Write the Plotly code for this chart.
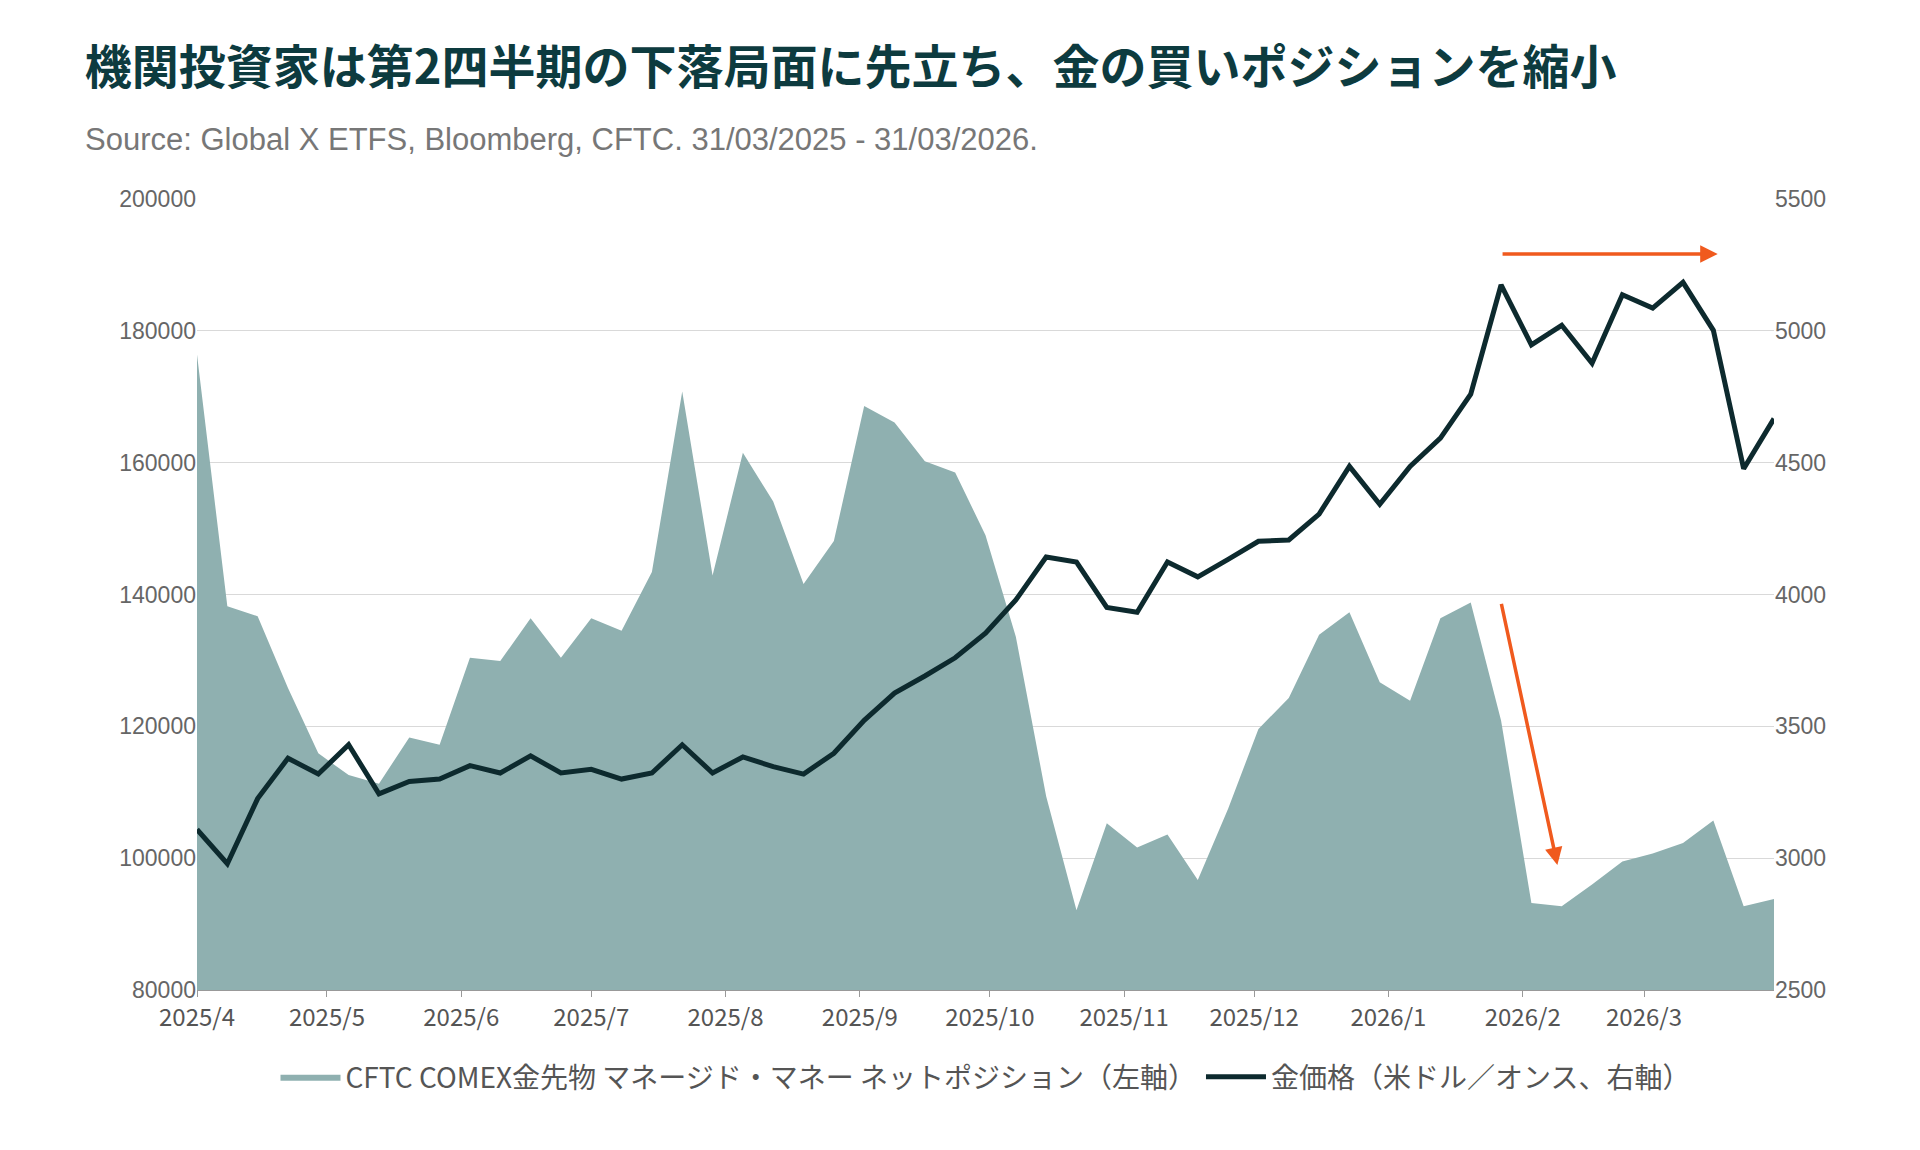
import plotly.graph_objects as go
import pandas as pd

dates = pd.date_range("2025-04-01", periods=53, freq="7D")
positions = [176400,138200,136700,125800,115900,112600,111300,118300,117200,130400,129900,136400,130400,136400,134500,143400,170800,142900,161500,154100,141600,148100,168600,166100,160200,158500,149000,133600,109400,92100,105300,101600,103600,96700,107500,119600,124300,133900,137300,126700,123900,136400,138800,120900,93200,92700,96000,99500,100700,102300,105700,92700,93800]
gold = [3109,2979,3226,3379,3319,3430,3244,3291,3300,3351,3323,3388,3323,3337,3300,3323,3430,3323,3384,3347,3319,3398,3523,3626,3691,3760,3853,3979,4142,4123,3951,3933,4123,4067,4133,4202,4207,4305,4486,4342,4486,4593,4760,5174,4947,5021,4877,5137,5086,5184,5002,4477,4667]
tick_vals = pd.date_range("2025-04-01", periods=12, freq="MS")
tick_text = [f"{d.year}/{d.month}" for d in tick_vals]

fig = go.Figure()
fig.add_trace(go.Scatter(x=dates, y=positions, fill="tozeroy", mode="lines", line=dict(width=0, color="#8fb0b0"),
                         fillcolor="#8fb0b0", name="CFTC COMEX金先物 マネージド・マネー ネットポジション（左軸）"))
fig.add_trace(go.Scatter(x=dates, y=gold, mode="lines", line=dict(width=5, color="#0d2a2e"),
                         name="金価格（米ドル／オンス、右軸）", yaxis="y2"))

orange = "#f05a1e"
for (x0, y0, x1, y1) in [("2026-01-27", 5291, "2026-03-18", 5291), ("2026-01-27", 3970, "2026-02-09", 2974)]:
    fig.add_annotation(x=x1, y=y1, ax=x0, ay=y0, xref="x", yref="y2", axref="x", ayref="y2",
                       showarrow=True, arrowhead=2, arrowsize=1, arrowwidth=3.5, arrowcolor=orange, text="")

font = "Noto Sans CJK JP"
fig.update_layout(
    width=1920, height=1150, plot_bgcolor="white", paper_bgcolor="white",
    margin=dict(l=189, r=154, t=191, b=168),
    font=dict(family=font, color="#555"),
    title=dict(text="<b>機関投資家は第2四半期の下落局面に先立ち、金の買いポジションを縮小</b>", x=0.04, xanchor="left",
               y=0.948, yanchor="middle", font=dict(size=47, color="#0d3b3f")),
    xaxis=dict(range=["2025-04-01", "2026-03-31"], tickvals=tick_vals, ticktext=tick_text, showgrid=False,
               showline=True, linecolor="#999", ticks="outside", tickcolor="#999", ticklen=6,
               tickfont=dict(size=24, color="#555")),
    yaxis=dict(range=[80000, 200000], dtick=20000, showgrid=True, gridcolor="#d9d9d9", zeroline=False,
               tickfont=dict(size=23, color="#666", family="Arial"), tickformat="d"),
    yaxis2=dict(range=[2500, 5500], dtick=500, overlaying="y", side="right", showgrid=False, zeroline=False,
                tickfont=dict(size=23, color="#666", family="Arial"), tickformat="d"),
    legend=dict(orientation="h", x=0.5, xanchor="center", y=-0.11, yanchor="middle",
                font=dict(size=28, color="#555"), itemwidth=60),
    showlegend=True,
)
fig.add_annotation(text="Source: Global X ETFS, Bloomberg, CFTC. 31/03/2025 - 31/03/2026.", xref="paper", yref="paper",
                   x=-0.072, y=1.075, xanchor="left", yanchor="middle", showarrow=False,
                   font=dict(size=31, color="#777", family="Arial"))
fig.write_html("out.html")
